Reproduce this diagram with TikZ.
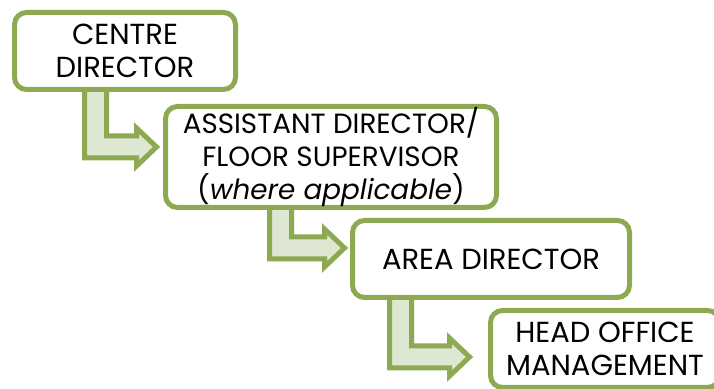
\documentclass[tikz,border=0pt]{standalone}
\usepackage{fontspec}
\setmainfont{Poppins}
\usepackage{xcolor}
\usetikzlibrary{calc,backgrounds}

\definecolor{boxgreen}{HTML}{8DAA52}
\definecolor{arrowfill}{HTML}{DEE7D2}

\tikzset{
  rolebox/.style={draw=boxgreen, line width=2.5pt, rounded corners=6pt,
    fill=white, outer sep=0pt, inner sep=0pt, align=center,
    font=\fontsize{14.5}{16.8}\selectfont},
  stairarrow/.style={draw=boxgreen, line width=2.5pt, fill=arrowfill}
}

% bent block arrow: #1 = top left of the shaft, #2 = tip
\newcommand{\bentarrow}[2]{%
  \draw[stairarrow] let \p1=(#1), \p2=(#2) in
    (\x1,\y1) -- (\x1,\y2-5.5pt) -- (\x2-10pt,\y2-5.5pt) -- (\x2-10pt,\y2-9.5pt)
    -- (\x2,\y2) -- (\x2-10pt,\y2+9.5pt) -- (\x2-10pt,\y2+5.5pt)
    -- (\x1+11pt,\y2+5.5pt) -- (\x1+11pt,\y1) -- cycle;}

\begin{document}
\begin{tikzpicture}[x=0.5pt,y=-0.5pt]
\useasboundingbox (0,0) rectangle (714,389);

% the four roles
\node (cd) at (125,51) [rolebox, minimum width=110.5pt, minimum height=38.5pt] {CENTRE\\DIRECTOR};
\node (ad) at (331,157) [rolebox, minimum width=165.5pt, minimum height=50.5pt,
  font=\fontsize{13.9}{16.5}\selectfont] {ASSISTANT DIRECTOR/\\FLOOR SUPERVISOR\\(\textit{where applicable})};
\node (ar) at (491,259) [rolebox, minimum width=138.5pt, minimum height=38.5pt] {AREA DIRECTOR};
\node (ho) at (605,349) [rolebox, minimum width=114.5pt, minimum height=38.5pt] {HEAD OFFICE\\MANAGEMENT};

% ends of the arrows
\coordinate (cd-out) at ($(cd.south west)+(70,0)$);
\coordinate (ad-in) at ($(ad.west)+(-9,-10)$);
\coordinate (ad-out) at ($(ad.south west)+(104,0)$);
\coordinate (ar-in) at ($(ar.west)+(-8,-11)$);
\coordinate (ar-out) at ($(ar.south west)+(37,0)$);
\coordinate (ho-in) at ($(ho.west)+(-21,8)$);

\begin{scope}[on background layer]
\bentarrow{cd-out}{ad-in}
\bentarrow{ad-out}{ar-in}
\bentarrow{ar-out}{ho-in}
\end{scope}
\end{tikzpicture}
\end{document}
